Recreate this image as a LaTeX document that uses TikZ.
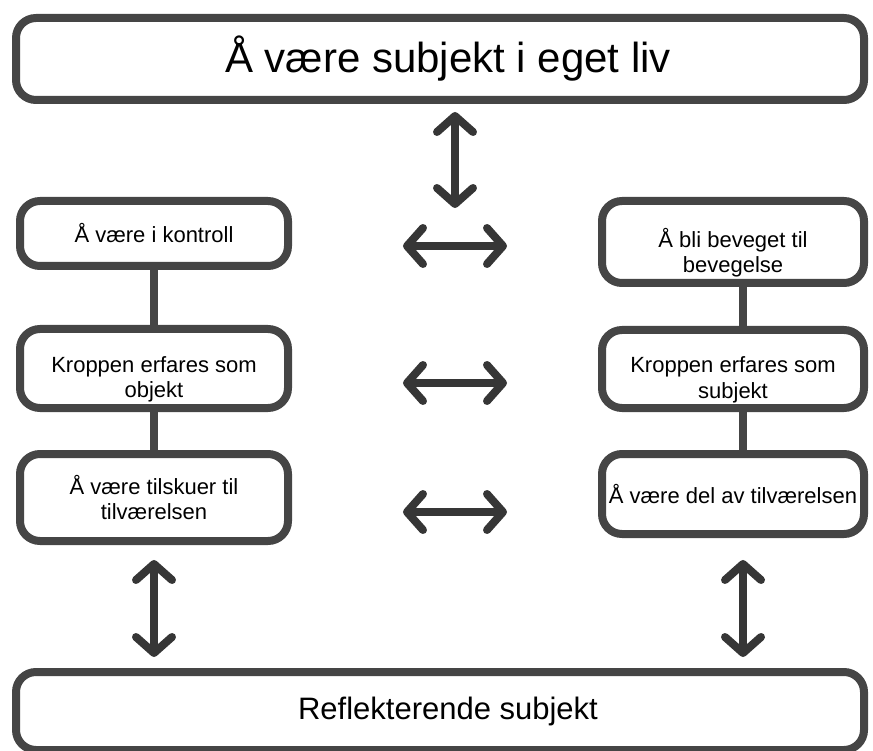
\documentclass[tikz,border=0pt]{standalone}
\usepackage{fontspec}
\setmainfont{Liberation Sans}
\usetikzlibrary{arrows.meta}

\definecolor{boxgray}{HTML}{454545}
\definecolor{arrgray}{HTML}{363636}

\tikzset{
  box/.style={draw=boxgray, line width=8pt, rounded corners=20pt, fill=white,
    align=center, inner sep=0pt, font=\fontsize{22}{25}\selectfont},
  bigbox/.style={box, minimum width=848pt, minimum height=82pt},
  leftbox/.style={box, minimum width=268pt},
  rightbox/.style={box, minimum width=262pt},
  lowtext/.style={text height=#1, text depth=5pt},
  link/.style={draw=boxgray, line width=8pt},
  twoway/.style={draw=arrgray, line width=8pt, line cap=round,
    {Straight Barb[length=16pt,width=36pt,round]}-{Straight Barb[length=16pt,width=36pt,round]}},
}

\begin{document}
\begin{tikzpicture}[x=1pt,y=-1pt]
	\useasboundingbox (0,0) rectangle (873,751);
	% top and bottom
	\node[bigbox, font=\fontsize{42}{48}\selectfont] (subjliv) at (440,59) {\hspace*{16pt}Å være subjekt i eget liv};
	\node[bigbox, font=\fontsize{31}{36}\selectfont, minimum height=78pt] (reflekt) at (440,711) {\hspace*{16pt}Reflekterende subjekt};
	% left column
	\node[leftbox, minimum height=65pt] (kontroll) at (154,233.5) {Å være i kontroll};
	\node[leftbox, minimum height=79pt, lowtext=63pt] (objekt) at (154,368.5) {Kroppen erfares som\\objekt};
	\node[leftbox, minimum height=87pt] (tilskuer) at (154,497.5) {Å være tilskuer til\\tilværelsen};
	% right column
	\node[rightbox, minimum height=82pt, lowtext=67pt] (beveget) at (733,242) {Å bli beveget til\\bevegelse};
	\node[rightbox, minimum height=78pt, lowtext=63pt] (subjekt) at (733,369) {Kroppen erfares som\\subjekt};
	\node[rightbox, minimum height=80pt] (delav) at (733,494) {Å være del av tilværelsen};
	% free arrow ends
	\coordinate (rline) at (743,0);
	\coordinate (upend) at (455,208);
	\coordinate (h1l) at (403,246);
	\coordinate (h1r) at (507,246);
	\coordinate (h2l) at (403,383);
	\coordinate (h2r) at (507,383);
	\coordinate (h3l) at (403,512);
	\coordinate (h3r) at (507,512);
	% links
	\draw[link] (kontroll) -- (objekt);
	\draw[link] (objekt) -- (tilskuer);
	\draw[link] (beveget.south -| rline) -- (subjekt.north -| rline);
	\draw[link] (subjekt.south -| rline) -- (delav.north -| rline);
	% arrows
	\draw[twoway, shorten <=8pt] (subjliv.south -| upend) -- (upend);
	\draw[twoway] (h1l) -- (h1r);
	\draw[twoway] (h2l) -- (h2r);
	\draw[twoway] (h3l) -- (h3r);
	\draw[twoway, shorten <=15pt, shorten >=11pt] (tilskuer.south) -- (reflekt.north -| tilskuer.south);
	\draw[twoway, shorten <=22pt, shorten >=11pt] (delav.south -| rline) -- (reflekt.north -| rline);
\end{tikzpicture}
\end{document}
